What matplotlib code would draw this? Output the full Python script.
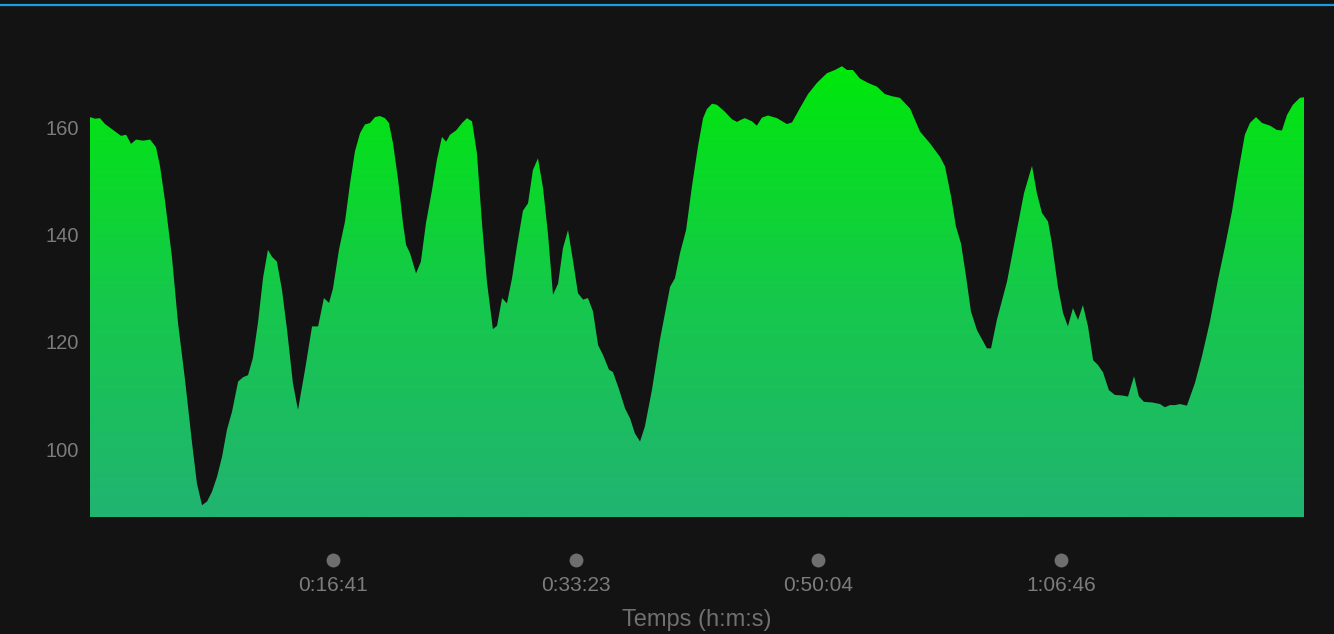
import matplotlib
matplotlib.use("Agg")
import matplotlib.pyplot as plt
import numpy as np
from matplotlib.colors import LinearSegmentedColormap
from matplotlib.lines import Line2D

# heart rate trace: time (s) and bpm
time_s = [0, 21, 41, 62, 95, 128, 149, 169, 190, 219, 248, 272, 289, 309, 338, 363,
          392, 421, 441, 462, 483, 503, 524, 545, 565, 586, 611, 631, 652, 672, 693,
          714, 734, 751, 771, 792, 813, 837, 858, 887, 916, 941, 965, 986, 1002, 1027,
          1052, 1073, 1093, 1114, 1134, 1155, 1176, 1196, 1217, 1233, 1250, 1271,
          1291, 1304, 1320, 1345, 1365, 1386, 1411, 1431, 1452, 1469, 1485, 1510,
          1535, 1555, 1576, 1596, 1617, 1638, 1662, 1679, 1700, 1720, 1741, 1761,
          1786, 1807, 1827, 1848, 1869, 1889, 1910, 1931, 1951, 1972, 1992, 2013,
          2034, 2054, 2075, 2096, 2116, 2141, 2157, 2182, 2207, 2228, 2248, 2269,
          2289, 2318, 2351, 2393, 2413, 2434, 2459, 2483, 2508, 2529, 2545, 2566,
          2586, 2619, 2648, 2669, 2690, 2702, 2731, 2751, 2772, 2797, 2834, 2875,
          2896, 2929, 2962, 2999, 3040, 3073, 3102, 3123, 3147, 3176, 3209, 3246,
          3279, 3308, 3341, 3383, 3424, 3465, 3506, 3527, 3552, 3572, 3593, 3614,
          3634, 3659, 3700, 3717, 3741, 3783, 3816, 3853, 3886, 3906, 3927, 3952,
          3968, 3993, 4014, 4034, 4055, 4076, 4096, 4117, 4138, 4158, 4179, 4203,
          4228, 4257, 4282, 4307, 4327, 4348, 4381, 4414, 4434, 4455, 4476, 4496,
          4525, 4558, 4587, 4620, 4653, 4682, 4711, 4736, 4764, 4785, 4810, 4835,
          4868, 4896, 4917, 4938, 4962, 4991, 5008]
bpm = [162.0, 161.7, 161.8, 160.7, 159.6, 158.5, 158.7, 157.0, 157.8, 157.6, 157.8,
       156.4, 152.8, 146.5, 135.9, 123.6, 112.9, 101.1, 93.6, 89.5, 90.2, 92.0, 94.8,
       98.6, 103.6, 107.0, 112.6, 113.4, 113.8, 117.0, 123.6, 132.0, 137.2, 135.9,
       135.0, 129.7, 122.2, 112.3, 107.3, 114.8, 122.9, 122.9, 128.2, 127.3, 129.9,
       137.2, 142.5, 149.7, 155.6, 159.0, 160.6, 160.9, 162.0, 162.2, 161.8, 160.9,
       157.1, 150.3, 142.2, 138.1, 136.6, 132.8, 135.0, 142.2, 148.4, 154.0, 158.3,
       157.4, 158.7, 159.5, 160.9, 161.8, 161.2, 155.3, 142.2, 131.0, 122.4, 123.0,
       128.2, 127.2, 131.9, 137.8, 144.5, 145.9, 152.1, 154.3, 148.7, 140.3, 128.8,
       130.9, 137.5, 140.9, 135.3, 129.1, 127.9, 128.2, 125.7, 119.4, 117.6, 114.8,
       114.4, 111.2, 107.6, 105.7, 102.9, 101.4, 104.2, 111.0, 120.4, 130.3, 131.9,
       136.6, 140.9, 149.0, 156.5, 161.8, 163.5, 164.5, 164.3, 163.0, 161.6, 161.1,
       161.6, 161.8, 161.2, 160.4, 161.9, 162.3, 161.8, 160.7, 161.0, 163.7, 166.3,
       168.4, 170.2, 170.8, 171.5, 170.8, 170.8, 169.2, 168.4, 167.7, 166.3, 165.9,
       165.6, 163.6, 159.3, 157.1, 154.6, 152.8, 147.2, 141.6, 138.4, 132.2, 125.7,
       122.2, 118.8, 118.8, 124.1, 131.3, 139.1, 147.8, 152.9, 147.8, 144.1, 142.5,
       138.4, 130.3, 125.4, 122.9, 126.3, 124.1, 126.9, 122.9, 116.6, 115.7, 114.3,
       111.0, 110.1, 110.0, 109.8, 113.6, 109.8, 108.8, 108.7, 108.4, 107.8, 108.2,
       108.2, 108.4, 108.1, 112.3, 117.3, 123.8, 131.6, 137.8, 144.4, 151.5, 158.7,
       160.9, 162.0, 160.9, 160.4, 159.6, 159.5, 162.4, 164.3, 165.6, 165.7]
y_ticks = [100, 120, 140, 160]
n_xticks = 5

bg = "#131313"
txt = "#7c7c7c"
plt.rcParams["font.family"] = ["Liberation Sans", "DejaVu Sans"]

fig = plt.figure(figsize=(13.34, 6.34), dpi=100, facecolor=bg)
ax = fig.add_axes([90 / 1334, 1 - 517 / 634, 1214 / 1334, 477 / 634])
ax.set_facecolor(bg)

t = np.array(time_s, dtype=float)
v = np.array(bpm)
total = t[-1]
ymin, ymax = 87.3, 176.4

# gradient fill clipped to the area
poly = ax.fill_between(t, v, ymin, color="none", lw=0)
cmap = LinearSegmentedColormap.from_list("hr", ["#21b472", "#15c94a", "#00e80a"])
grad = np.linspace(0, 1, 256).reshape(-1, 1)
top = v.max()
img = ax.imshow(grad, cmap=cmap, origin="lower", aspect="auto",
                extent=[0, total, ymin, top], zorder=1)
img.set_clip_path(poly.get_paths()[0], transform=ax.transData)
ax.set_xlim(0, total)
ax.set_ylim(ymin, ymax)

for s in ax.spines.values():
    s.set_visible(False)
ax.set_yticks(y_ticks)
ax.tick_params(axis="y", length=0, pad=8, labelsize=14.5, labelcolor=txt)
ax.set_xticks([])

# time ticks: dot + h:m:s label
for i in range(1, n_xticks):
    xt = total * i / n_xticks
    sec = int(xt)
    lab = f"{sec // 3600}:{(sec % 3600) // 60:02d}:{sec % 60:02d}"
    ax.plot([xt], [-0.09], marker="o", ms=10, color="#6e6e6e", mec="none",
            transform=ax.get_xaxis_transform(), clip_on=False)
    ax.text(xt, -0.143, lab, transform=ax.get_xaxis_transform(), ha="center",
            va="center", fontsize=15, color=txt)

ax.text(0.5, -0.215, "Temps (h:m:s)", transform=ax.transAxes, ha="center",
        va="center", fontsize=17, color="#707070")

# thin blue bar across the top
fig.add_artist(Line2D([0, 1], [1 - 4.5 / 634] * 2, transform=fig.transFigure,
                      color="#1a9de0", lw=1.6))

fig.savefig("out.png", dpi=100, facecolor=bg)
